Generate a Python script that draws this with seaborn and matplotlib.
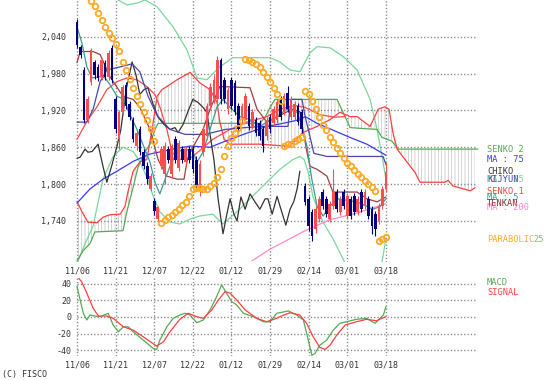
import numpy as np
import matplotlib
matplotlib.use("Agg")
import matplotlib.pyplot as plt
import seaborn as sns

# ---- data (day index 0 = 11/06, 88 = 03/18, cloud runs to 114) ----
tick_days = [0, 11, 22, 33, 44, 55, 66, 77, 88]
tick_labels = ["11/06", "11/21", "12/07", "12/22", "01/12", "01/29", "02/14", "03/01", "03/18"]
price_ticks = [2040, 1980, 1920, 1860, 1800, 1740]
macd_ticks = [40, 20, 0, -20, -40]

opens = [2064, 2024, 1986, 1905, 1967, 1999, 1991, 1975, 1998, 1975, 2022, 1938, 1873, 1917, 1962,
         1930, 1905, 1862, 1889, 1852, 1830, 1792, 1772, 1743, 1830, 1816, 1857, 1816, 1873, 1827,
         1857, 1836, 1857, 1857, 1840, 1788, 1852, 1879, 1927, 1938, 1938, 2003, 1970, 1922, 1970,
         1965, 1927, 1905, 1905, 1927, 1894, 1905, 1899, 1889, 1878, 1910, 1899, 1905, 1938, 1917,
         1949, 1910, 1910, 1927, 1917, 1797, 1776, 1755, 1727, 1743, 1787, 1776, 1743, 1764, 1787,
         1755, 1787, 1748, 1776, 1780, 1755, 1787, 1764, 1776, 1759, 1751, 1740, 1764, 1792]
highs = [2069, 2027, 1990, 1943, 2022, 2003, 1995, 2006, 2002, 2018, 2027, 1943, 1920, 1962, 1966,
         1935, 1910, 1889, 1894, 1857, 1836, 1818, 1778, 1765, 1862, 1868, 1862, 1866, 1878, 1872,
         1862, 1862, 1862, 1862, 1845, 1840, 1894, 1932, 1964, 1978, 2008, 2006, 1975, 1958, 1975,
         1970, 1932, 1932, 1948, 1932, 1922, 1910, 1904, 1894, 1910, 1915, 1927, 1938, 1943, 1948,
         1960, 1943, 1935, 1932, 1922, 1802, 1781, 1760, 1764, 1781, 1792, 1781, 1773, 1824, 1792,
         1781, 1792, 1785, 1781, 1785, 1781, 1792, 1792, 1781, 1764, 1756, 1769, 1797, 1836]
lows = [2022, 2006, 1900, 1900, 1962, 1972, 1968, 1970, 1970, 1970, 1965, 1884, 1857, 1912, 1922,
        1905, 1868, 1855, 1848, 1825, 1800, 1788, 1750, 1738, 1825, 1800, 1835, 1810, 1835, 1822,
        1835, 1830, 1835, 1818, 1790, 1780, 1846, 1873, 1920, 1932, 1932, 1930, 1932, 1915, 1922,
        1912, 1884, 1900, 1900, 1888, 1889, 1878, 1872, 1852, 1872, 1884, 1894, 1900, 1905, 1912,
        1917, 1905, 1905, 1896, 1884, 1766, 1724, 1708, 1720, 1738, 1759, 1746, 1738, 1759, 1754,
        1750, 1759, 1743, 1743, 1750, 1750, 1754, 1759, 1743, 1719, 1716, 1735, 1759, 1787]
closes = [2027, 2011, 1905, 1938, 2019, 1978, 1973, 2003, 1975, 2014, 1970, 1889, 1917, 1959, 1927,
          1910, 1873, 1884, 1852, 1830, 1808, 1813, 1756, 1762, 1857, 1862, 1840, 1862, 1840, 1867,
          1840, 1857, 1840, 1824, 1797, 1832, 1889, 1927, 1959, 1970, 2003, 1938, 1938, 1954, 1927,
          1917, 1889, 1927, 1943, 1894, 1917, 1884, 1878, 1862, 1905, 1889, 1922, 1933, 1910, 1943,
          1922, 1938, 1930, 1901, 1889, 1771, 1732, 1716, 1759, 1776, 1764, 1751, 1768, 1787, 1759,
          1776, 1764, 1780, 1748, 1755, 1776, 1759, 1787, 1748, 1732, 1727, 1764, 1792, 1820]

chiko_day = [0, 0.9, 2.3, 3.1, 4.3, 6.0, 7.4, 8.5, 10.0, 11.4, 12.5, 14.0, 15.7, 16.8, 17.9, 19.1,
             20.2, 21.7, 23.1, 24.8, 26.5, 27.9, 28.8, 30.2, 31.6, 33.0, 34.5, 35.9, 37.0, 37.9,
             39.0, 40.2, 41.6, 42.7, 43.6, 44.7, 45.6, 46.7, 47.9, 49.3, 50.7, 52.1, 53.6, 54.4,
             55.6, 57.0, 58.1, 59.5, 60.7, 61.8, 62.7, 63.5]
chiko_val = [1842, 1844, 1857, 1852, 1853, 1865, 1829, 1803, 1832, 1862, 1889, 1954, 1999, 1978,
             1946, 1954, 1957, 1930, 1909, 1897, 1889, 1892, 1884, 1897, 1918, 1938, 1933, 1925,
             1917, 1881, 1840, 1776, 1719, 1751, 1776, 1751, 1740, 1779, 1759, 1784, 1771, 1759,
             1776, 1776, 1751, 1780, 1759, 1733, 1759, 1772, 1792, 1821]

senko1_day = [0, 1.4, 3.1, 5.7, 7.4, 9.4, 12.3, 13.7, 14.5, 16.0, 17.9, 19.9, 21.4, 22.8, 24.2,
              25.6, 28.5, 32.2, 35.0, 37.9, 39.9, 40.7, 41.9, 43.6, 52.1, 59.3, 60.7, 64.4, 68.4,
              72.1, 74.9, 77.8, 79.8, 83.5, 85.8, 87.7, 88.9, 90.0, 91.2, 94.0, 96.3, 97.7, 104.8,
              105.7, 107.1, 112.0, 113.4]
senko1_val = [1772, 1755, 1738, 1737, 1746, 1750, 1751, 1764, 1787, 1821, 1836, 1840, 1889, 1943,
              1954, 1959, 1970, 1982, 1965, 1954, 1933, 1901, 1873, 1865, 1865, 1862, 1862, 1884,
              1894, 1905, 1917, 1910, 1910, 1894, 1922, 1926, 1922, 1884, 1857, 1836, 1819, 1803,
              1803, 1806, 1797, 1789, 1794]

senko2_day = [0, 1.7, 3.7, 5.1, 13.1, 14.2, 16.0, 17.4, 19.4, 20.8, 22.2, 23.1, 52.1, 53.6, 55.0,
              56.4, 74.1, 75.8, 77.8, 85.5, 86.9, 89.7, 91.5, 114.2]
senko2_val = [1675, 1691, 1703, 1722, 1724, 1755, 1795, 1828, 1853, 1865, 1889, 1899, 1899, 1909,
              1925, 1938, 1938, 1917, 1892, 1889, 1876, 1870, 1857, 1857]

kijyun_day = [0, 2.8, 4.6, 6.6, 8.5, 12.3, 15.7, 17.9, 20.2, 22.8, 26.5, 30.8, 36.5, 42.2, 47.9,
              53.0, 60.1, 61.0, 64.1, 65.0, 66.1, 67.5, 71.2, 87.2, 88]
kijyun_val = [1901, 1901, 1922, 1967, 1986, 1991, 1996, 1983, 1944, 1912, 1889, 1881, 1881, 1889,
              1892, 1894, 1894, 1938, 1938, 1910, 1884, 1850, 1845, 1845, 1832]

tenkan_day = [0, 0.9, 4.6, 6.6, 9.4, 13.1, 16.0, 17.9, 20.8, 23.1, 25.6, 28.5, 30.5, 31.3, 32.2,
              35.9, 37.9, 40.7, 49.3, 51.3, 54.1, 57.8, 61.3, 63.5, 65.5, 66.4, 68.4, 71.2, 72.9,
              79.8, 82.6, 85.5, 88]
tenkan_val = [1998, 2016, 2016, 2011, 1975, 1943, 1938, 1925, 1889, 1840, 1813, 1808, 1808, 1836,
              1852, 1889, 1922, 1959, 1957, 1922, 1901, 1912, 1922, 1918, 1852, 1829, 1824, 1813,
              1787, 1787, 1776, 1771, 1779]

ma5_day = [0, 1.4, 2.8, 4.3, 6.6, 8.0, 9.4, 11.4, 13.4, 14.8, 17.1, 19.1, 20.8, 22.2, 23.6, 25.1,
           26.5, 28.5, 30.8, 33.0, 34.2, 35.9, 37.9, 39.9, 41.6, 43.6, 46.4, 49.3, 52.1, 54.1,
           57.0, 59.8, 62.7, 63.5, 65.5, 66.9, 68.4, 70.1, 72.1, 74.1, 79.8, 84.3, 86.3, 88]
ma5_val = [2056, 2030, 1991, 1973, 1975, 1973, 1962, 1943, 1938, 1917, 1889, 1860, 1836, 1803,
           1784, 1808, 1829, 1852, 1857, 1853, 1836, 1852, 1889, 1926, 1938, 1925, 1910, 1905,
           1894, 1901, 1910, 1922, 1917, 1905, 1862, 1808, 1764, 1748, 1764, 1776, 1771, 1759,
           1763, 1776]

ma75_day = [0, 3.7, 7.4, 11.4, 16.0, 20.8, 27.4, 32.2, 37.9, 43.6, 48.4, 54.1, 58.7, 63.5, 65.0,
            68.4, 72.9, 77.8, 82.6, 88]
ma75_val = [1769, 1792, 1808, 1821, 1837, 1849, 1857, 1862, 1860, 1873, 1883, 1894, 1899, 1905,
            1910, 1899, 1888, 1876, 1865, 1847]

ma200_day = [49.9, 55.0, 60.7, 65.0, 72.1, 79.8, 88]
ma200_val = [1675, 1694, 1711, 1724, 1742, 1753, 1768]

band_up_day = [0, 6.6, 11.7, 14.2, 17.1, 19.4, 22.8, 27.4, 31.3, 34.2, 37.0, 40.7, 44.4, 55.0,
               57.8, 60.7, 63.5, 66.4, 68.4, 72.1, 75.8, 79.8, 83.5, 85.5, 87.2, 88]
band_up_val = [2165, 2132, 2100, 2092, 2095, 2100, 2089, 2056, 2019, 1973, 1970, 1991, 2006, 2006,
               1999, 1986, 1983, 2014, 2024, 2022, 2008, 1986, 1938, 1889, 1836, 1808]
band_lo_day = [0, 2.3, 4.6, 7.4, 10.3, 13.1, 16.0, 17.9, 20.2, 21.7, 23.6, 26.5, 29.3, 32.2, 35.0,
               38.7, 41.6, 45.6, 48.4, 53.0, 57.8, 61.5, 63.5, 64.7, 65.8, 67.2, 70.1, 72.9, 75.8,
               77.8, 86.3, 87.2, 88]
band_lo_val = [1670, 1703, 1732, 1808, 1845, 1860, 1853, 1836, 1808, 1780, 1755, 1738, 1735, 1743,
               1748, 1751, 1735, 1755, 1771, 1797, 1824, 1840, 1845, 1840, 1821, 1780, 1738, 1711,
               1678, 1654, 1654, 1683, 1711]

arc_day = [0, 2.8, 5.7, 8.5, 11.4, 14.2, 17.1, 19.9, 22.2, 23.6, 25.6, 27.1, 29.3, 32.8, 38.7,
           43.6, 48.4, 54.1, 57.8, 62.1, 65.0, 69.2, 73.5, 76.4]
arc_val = [1873, 1902, 1926, 1954, 1967, 1973, 1970, 1959, 1946, 1926, 1889, 1852, 1840, 1844,
           1873, 1889, 1901, 1910, 1922, 1928, 1925, 1913, 1909, 1910]

sar_day = [4, 5, 6, 7, 8, 9, 10, 11, 12, 13, 14, 15, 16, 17, 18, 19, 20, 21, 22,
           24, 25, 26, 27, 28, 29, 30, 31, 32, 33, 34, 35, 36, 37, 38, 39, 40, 41, 42, 43, 44,
           45, 46, 47, 48, 49, 50, 51, 52, 53, 54, 55, 56, 57, 58, 59, 60, 61, 62, 63, 64,
           65, 66, 67, 68, 69, 70, 71, 72, 73, 74, 75, 76, 77, 78, 79, 80, 81, 82, 83, 84, 85,
           86, 87, 88]
sar_val = [2098, 2090, 2079, 2068, 2056, 2046, 2038, 2029, 2017, 1999, 1986, 1972, 1957, 1944,
           1931, 1918, 1905, 1889, 1870,
           1737, 1742, 1747, 1750, 1755, 1759, 1766, 1771, 1780, 1792, 1793, 1793, 1792, 1792,
           1797, 1802, 1811, 1824, 1845, 1862, 1875, 1884, 1892, 1902,
           2004, 2003, 1999, 1996, 1991, 1983, 1975, 1967, 1957, 1946, 1935,
           1862, 1865, 1866, 1870, 1873, 1876,
           1952, 1946, 1936, 1923, 1910, 1897, 1888, 1876, 1868, 1859, 1850, 1842, 1834, 1829,
           1823, 1816, 1811, 1805, 1800, 1795, 1789,
           1707, 1711, 1714]

macd_day = [0, 0.9, 1.8, 2.8, 3.7, 5.1, 6.6, 8.9, 10.3, 11.8, 13.2, 14.6, 16.0, 18.9, 21.7, 22.7,
            23.6, 25.6, 27.4, 29.3, 30.8, 32.2, 34.1, 36.0, 37.9, 39.8, 41.2, 42.6, 44.1, 45.5,
            47.4, 50.2, 53.1, 55.0, 56.9, 57.8, 60.2, 62.6, 64.5, 65.9, 66.9, 67.8, 69.2, 71.1,
            73.0, 74.9, 76.8, 79.6, 82.5, 84.9, 87.3, 88]
macd_val = [36.7, 20.6, 4.5, -3.6, 2.4, 1.2, 0.4, 4.5, -9.7, -17.8, -11.8, -11.8, -17.8, -27.9,
            -37.9, -39.1, -27.9, -11.8, -1.6, 2.4, 4.5, 2.4, -6.9, -3.6, 8.5, 24.6, 38.8, 28.7,
            18.5, 14.5, 4.5, 0.4, -5.7, -5.7, 4.5, 5.2, 7.3, 2.4, -3.6, -27.9, -46.1, -44.0,
            -33.9, -27.9, -15.8, -7.6, -5.7, -2.8, -1.6, -7.6, 2.4, 12.5]
signal_day = [0, 1.3, 2.8, 4.6, 6.1, 8.5, 10.3, 13.2, 16.0, 18.9, 22.7, 24.6, 26.5, 29.3, 31.7,
              34.1, 36.0, 38.4, 40.3, 42.2, 43.6, 45.5, 47.9, 51.2, 54.0, 56.9, 57.8, 60.7, 63.5,
              65.4, 67.3, 69.2, 70.7, 72.1, 74.0, 76.4, 79.6, 82.5, 85.3, 88]
signal_val = [48.8, 42.8, 28.7, 10.5, 1.2, 1.2, -1.6, -11.8, -15.8, -23.9, -35.1, -29.9, -17.8,
              -2.8, 4.5, 0.4, -1.6, 8.5, 20.6, 30.7, 28.7, 20.6, 8.5, -1.6, -5.7, -1.6, 0.4, 5.2,
              2.4, -7.6, -23.9, -36.7, -39.1, -33.9, -21.8, -9.7, -5.7, -2.8, -4.5, 0.4]

# ---- styling ----
sns.set_style("white")
plt.rcParams["font.family"] = ["DejaVu Sans Mono"]
plt.rcParams["hatch.linewidth"] = 0.5
plt.rcParams["hatch.color"] = "#c4c4c4"

W, H = 553, 380
fig = plt.figure(figsize=(W / 100, H / 100), dpi=100)
x0, x1 = -1.5, 114.5
left_px = 77 - 1.5 * 3.51
width_px = (x1 - x0) * 3.51
ax = fig.add_axes([left_px / W, (H - 262) / H, width_px / W, 262 / H])
axm = fig.add_axes([left_px / W, (H - 356) / H, width_px / W, 78 / H])

grid_kw = dict(color="#858585", lw=1.0, linestyles=(0, (0.9, 1.5)), zorder=1)
text_color = "#333333"

# ---- main panel ----
ax.set_xlim(x0, x1)
ax.set_ylim(1673, 2100)
ax.hlines(price_ticks, 0, 114, **grid_kw)
ax.vlines(tick_days, 1673, 2100, **grid_kw)

# kumo hatch
grid_days = np.arange(0, 113.45, 0.1)
s1 = np.interp(grid_days, senko1_day, senko1_val)
s2 = np.interp(grid_days, senko2_day, senko2_val)
ax.fill_between(grid_days, s1, s2, facecolor="none", edgecolor="#c4c4c4",
                hatch="|||||", linewidth=0, zorder=0)

lines = [
    (band_up_day, band_up_val, "#7ad89a"),
    (band_lo_day, band_lo_val, "#7ad89a"),
    (senko2_day, senko2_val, "#55aa55"),
    (senko1_day, senko1_val, "#ff4040"),
    (arc_day, arc_val, "#ff4a4a"),
    (ma200_day, ma200_val, "#ff88cc"),
    (ma75_day, ma75_val, "#3838ff"),
    (chiko_day, chiko_val, "#333333"),
    (kijyun_day, kijyun_val, "#4848a8"),
    (tenkan_day, tenkan_val, "#a03c3c"),
    (ma5_day, ma5_val, "#3a9a9a"),
]
for d, v, c in lines:
    sns.lineplot(x=d, y=v, ax=ax, color=c, lw=0.9, estimator=None, sort=False, zorder=3)

# candles
days = np.arange(len(closes))
o = np.array(opens)
c = np.array(closes)
up = c >= o
col = np.where(up, "#ff4d4d", "#000080")
ax.vlines(days, lows, highs, colors=col, lw=0.8, zorder=4)
ax.bar(days, np.abs(c - o), bottom=np.minimum(o, c), width=0.75, color=col,
       linewidth=0, zorder=5)

# parabolic
ax.plot(sar_day, sar_val, linestyle="none", marker="o", ms=4.0, mfc="none",
        mec="#ffaa22", mew=1.3, zorder=6)

ax.set_xticks(tick_days)
ax.set_xticklabels(tick_labels)
ax.set_yticks(price_ticks)
ax.set_yticklabels([f"{p:,}" for p in price_ticks])
ax.tick_params(length=0, labelsize=6, colors=text_color, pad=3)
ax.tick_params(axis="y", pad=4)
ax.set_xlabel("")
ax.set_ylabel("")
for s in ax.spines.values():
    s.set_visible(False)

# ---- MACD panel ----
axm.set_xlim(x0, x1)
axm.set_ylim(-47, 47)
axm.hlines(macd_ticks, 0, 114, **grid_kw)
axm.vlines(tick_days, -47, 47, **grid_kw)
sns.lineplot(x=macd_day, y=macd_val, ax=axm, color="#55aa55", lw=0.9,
             estimator=None, sort=False, zorder=3)
sns.lineplot(x=signal_day, y=signal_val, ax=axm, color="#ff4040", lw=0.9,
             estimator=None, sort=False, zorder=3)
axm.set_xticks(tick_days)
axm.set_xticklabels(tick_labels)
axm.set_yticks(macd_ticks)
axm.set_yticklabels([str(v) for v in macd_ticks])
axm.tick_params(length=0, labelsize=6, colors=text_color, pad=3)
axm.tick_params(axis="y", pad=0)
axm.set_xlabel("")
axm.set_ylabel("")
for s in axm.spines.values():
    s.set_visible(False)

# ---- legend texts at the right (stacked and overlapping as in the source) ----
legend_items = [
    ("SENKO 2", "#55aa55", 150),
    ("MA : 75", "#3838ff", 160),
    ("CHIKO", "#333333", 171.5),
    ("MA : 25", "#6fd88f", 179.5),
    ("KIJYUN", "#4848a8", 179.5),
    ("SENKO 1", "#ff4040", 191.5),
    ("MA : 5", "#3a9a9a", 198),
    ("TENKAN", "#8a3030", 203),
    ("MA : 200", "#ff88cc", 208),
    ("PARABOLIC", "#ffaa22", 239.5),
    ("MACD", "#55aa55", 282.5),
    ("SIGNAL", "#ff4040", 292.5),
]
for label, colr, ypx in legend_items:
    fig.text(487 / W, 1 - ypx / H, label, color=colr, fontsize=6.2, va="center", ha="left")
fig.text(533 / W, 1 - 239.5 / H, "25", color="#66cc66", fontsize=6.2, va="center", ha="left")

fig.text(2 / W, 1 - 374 / H, "(C) FISCO", color=text_color, fontsize=6, va="center", ha="left")

fig.savefig("out.png", dpi=100)
